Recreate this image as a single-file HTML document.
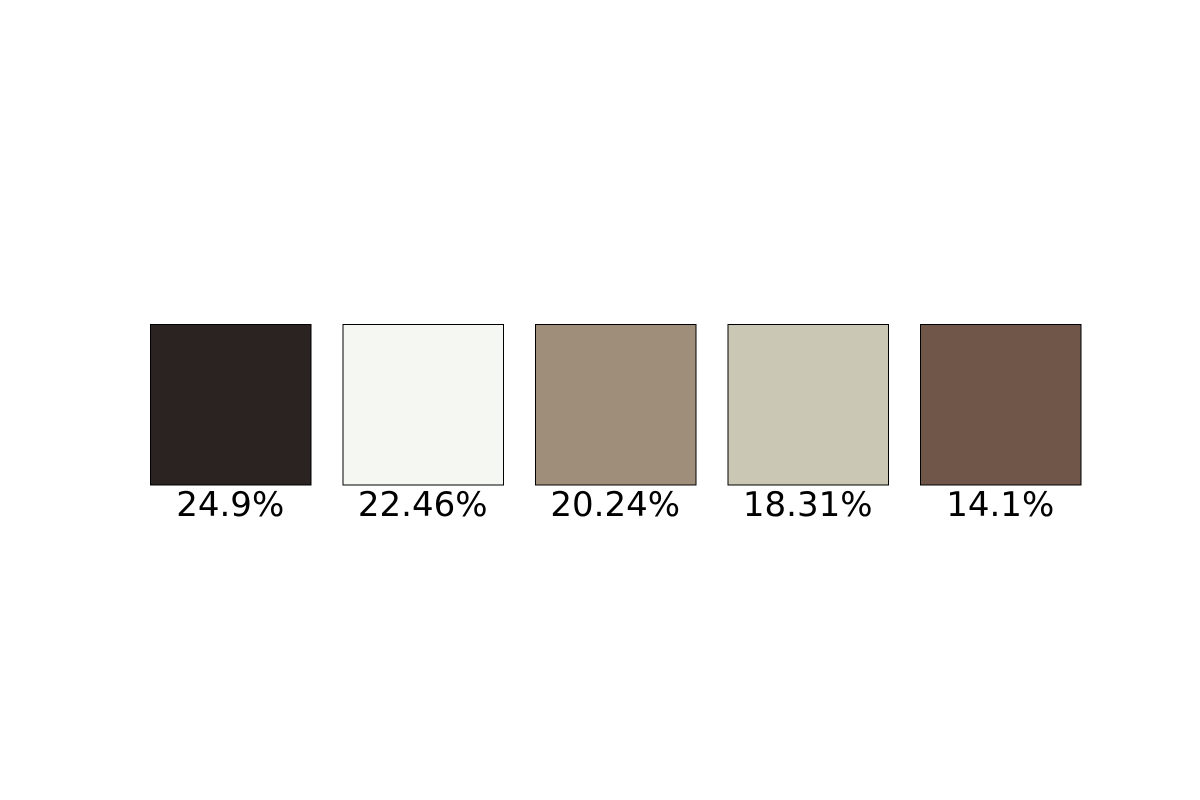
<!DOCTYPE html>
<html>
<head>
<meta charset="utf-8">
<style>
  html, body { margin: 0; padding: 0; background: #ffffff; }
  svg { display: block; }
  text { font-family: "DejaVu Sans", "Liberation Sans", sans-serif; }
</style>
</head>
<body>
<svg id="chart" width="1200" height="800" viewBox="0 0 1200 800" xmlns="http://www.w3.org/2000/svg">
  <rect x="0" y="0" width="1200" height="800" fill="#ffffff"/>
  <g id="swatches"></g>
</svg>
<script>
const colors = ["#2b2222", "#f5f7f3", "#9f8e7a", "#cac7b4", "#6f5649"];
const percents = [24.9, 22.46, 20.24, 18.31, 14.1];
const labels = ["24.9%", "22.46%", "20.24%", "18.31%", "14.1%"];

const NS = "http://www.w3.org/2000/svg";
const g = document.getElementById("swatches");
const x0 = 150, pitch = 192.5, w = 160.5, y0 = 324, h = 160.5;
function xPos(i) { return x0 + i * pitch; }

colors.forEach((c, i) => {
  const r = document.createElementNS(NS, "rect");
  r.setAttribute("x", xPos(i) + 0.5);
  r.setAttribute("y", y0 + 0.5);
  r.setAttribute("width", w);
  r.setAttribute("height", h);
  r.setAttribute("fill", c);
  r.setAttribute("stroke", "#000000");
  r.setAttribute("stroke-width", "1");
  
  
  g.appendChild(r);

  const t = document.createElementNS(NS, "text");
  t.setAttribute("x", xPos(i) + w / 2);
  t.setAttribute("y", 516);
  t.setAttribute("text-anchor", "middle");
  t.setAttribute("font-size", "34");
  t.setAttribute("fill", "#000000");
  t.textContent = labels[i];
  
  
  g.appendChild(t);
});
</script>
</body>
</html>
